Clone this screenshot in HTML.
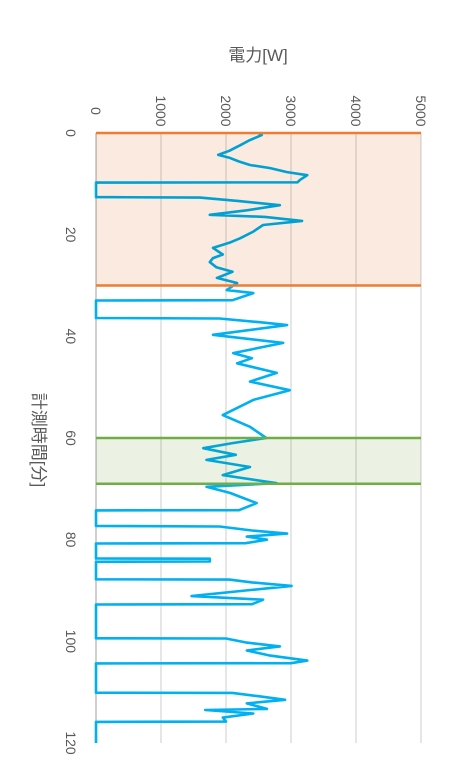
<!DOCTYPE html>
<html><head><meta charset="utf-8"><style>
html,body{margin:0;padding:0;background:#fff;}
svg{display:block;font-family:"Liberation Sans","Noto Sans CJK JP",sans-serif;}
</style></head><body>
<svg id="chart" width="450" height="770" viewBox="0 0 450 770" xmlns="http://www.w3.org/2000/svg">
<g id="grid"></g>
<g id="series"></g>
<g id="bands" style="mix-blend-mode:multiply"></g>
<g id="bandlines"></g>
<g id="labels"></g>
<text x="258" y="61" text-anchor="middle" font-size="17" fill="#595959">電力[W]</text>
<text transform="translate(33,440) rotate(90)" text-anchor="middle" font-size="17" fill="#595959">計測時間[分]</text>
</svg>
<script>
const powerTicks = [0,1000,2000,3000,4000,5000];
const timeTicks = [0,20,40,60,80,100,120];
const bandStarts = [0,60];
const bandEnds = [30,69];
const times = [0,0.4,1.5,2.4,3.5,4.3,4.9,5.6,6.3,6.9,7.7,8.3,9.2,9.7,9.75,12.6,12.7,13.4,14.2,15.2,16.1,16.5,17.3,18.1,19.4,20.7,21.6,22.6,23.9,24.6,25.4,26.4,27.3,28.5,29.5,30.9,31.5,32.9,32.95,36.4,36.5,37.2,37.8,39.7,41.3,43.3,44.3,45.3,47.2,48.9,50.6,52.5,55.5,57.8,60,61,62,63.3,64.3,65.7,67.3,68.9,69.6,70.8,72.8,74.2,74.25,77.3,77.4,78.2,78.8,79.4,80.0,80.7,80.75,83.7,83.75,84.3,84.35,87.8,87.85,88.4,89.1,90.0,91.1,91.8,92.7,92.75,99.4,99.45,100.2,101,101.8,102.8,103.8,104.3,104.35,110.1,110.15,110.8,111.5,112.2,113.3,113.5,114.2,115,115.8,115.85,120];
const powers = [2500,2550,2350,2220,2050,1880,2060,2200,2370,2680,2940,3250,3140,3100,0,0,1600,2200,2830,2320,1750,2600,3170,2570,2420,2220,2050,1800,1950,1800,1750,1850,2100,1860,2170,2010,2420,2100,0,0,1900,2500,2940,1800,2880,2110,2400,2170,2780,2370,2980,2420,1950,2370,2620,2100,1650,2150,1700,2370,1950,2780,1700,2060,2470,2200,0,0,1900,2400,2940,2320,2630,2300,0,0,1750,1750,0,0,2050,2400,3010,2300,1470,2570,2400,0,0,2000,2300,2830,2320,2680,3250,3000,0,0,2100,2500,2910,2320,2630,1680,2420,1950,2000,0,0];
const NS="http://www.w3.org/2000/svg";
const X0=96, X1=421, Y0=133, Y1=743;
function xPos(v){return X0+(v/5000)*(X1-X0);}
function yPos(t){return Y0+(t/120)*(Y1-Y0);}
function mk(tag,attrs,parent){const e=document.createElementNS(NS,tag);for(const k in attrs)e.setAttribute(k,attrs[k]);parent.appendChild(e);return e;}
const grid=document.getElementById('grid'), labels=document.getElementById('labels');
powerTicks.forEach(v=>{
  const l=mk('line',{x1:xPos(v),x2:xPos(v),y1:Y0,y2:Y1,stroke:v===0?'#bfbfbf':'#d9d9d9','stroke-width':v===0?1.5:1.3},grid);
  
  
  const t=mk('text',{transform:`translate(${xPos(v)-5},${Y0-22}) rotate(90)`,'text-anchor':'middle','font-size':14,fill:'#595959'},labels);
  t.textContent=v;
  
  
});
timeTicks.forEach(tv=>{
  const t=mk('text',{transform:`translate(${66},${yPos(tv)}) rotate(90)`,'text-anchor':'middle','font-size':14,fill:'#595959'},labels);
  t.textContent=tv;
  
  
});
const series=document.getElementById('series');
let d='';
times.forEach((t,i)=>{d+=(i?'L':'M')+xPos(powers[i]).toFixed(1)+','+yPos(t).toFixed(1);});
const p=mk('path',{d:d,fill:'none',stroke:'#00b0f0','stroke-width':2.6,'stroke-linejoin':'round'},series);


const bands=document.getElementById('bands'), bl=document.getElementById('bandlines');
const fills=['#fbeadf','#ebf2e3'];
const strokes=['#ed7d31','#70ad47'];
bandStarts.forEach((s,i)=>{
  const r=mk('rect',{x:X0,y:yPos(s),width:X1-X0,height:yPos(bandEnds[i])-yPos(s),fill:fills[i]},bands);
  
  
  [s,bandEnds[i]].forEach(tv=>{
    const l=mk('line',{x1:X0,x2:X1,y1:yPos(tv),y2:yPos(tv),stroke:strokes[i],'stroke-width':2.5},bl);
    
    
  });
});
</script>
</body></html>
